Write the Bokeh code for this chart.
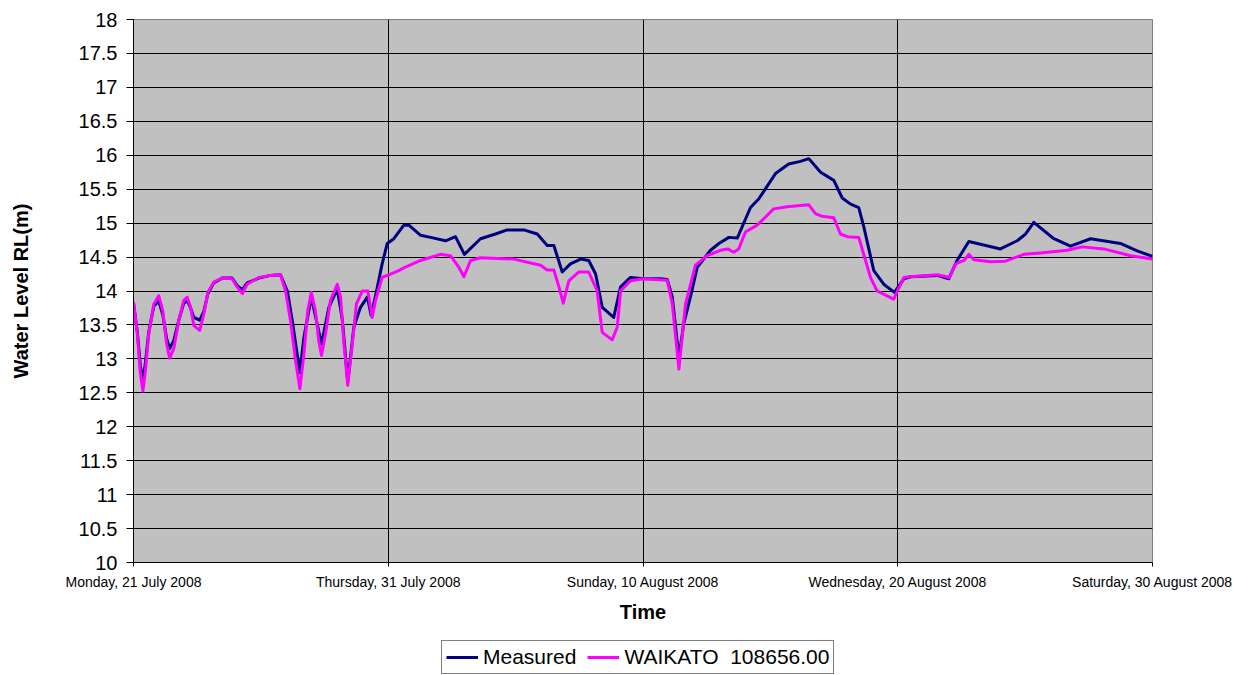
from bokeh.plotting import figure
from bokeh.layouts import column
from bokeh.models import ColumnDataSource, FixedTicker, Legend, LegendItem, Range1d
from bokeh.embed import file_html
from bokeh.resources import INLINE

# Days since Monday, 21 July 2008
tick_days = [0, 10, 20, 30, 40]
tick_labels = ["Monday, 21 July 2008", "Thursday, 31 July 2008", "Sunday, 10 August 2008",
               "Wednesday, 20 August 2008", "Saturday, 30 August 2008"]
y_ticks = [10, 10.5, 11, 11.5, 12, 12.5, 13, 13.5, 14, 14.5, 15, 15.5, 16, 16.5, 17, 17.5, 18]

measured_day = [0.0, 0.15, 0.27, 0.37, 0.47, 0.6, 0.8, 0.99, 1.15, 1.3, 1.42, 1.58, 1.78, 1.97,
                2.11, 2.24, 2.37, 2.6, 2.76, 2.92, 3.15, 3.48, 3.87, 4.07, 4.27, 4.46, 4.92, 5.38,
                5.77, 6.04, 6.23, 6.53, 6.69, 6.98, 7.38, 7.67, 8.0, 8.2, 8.41, 8.65, 8.91, 9.18,
                9.33, 9.54, 9.76, 9.96, 10.22, 10.61, 10.81, 11.27, 11.66, 12.25, 12.64, 12.99,
                13.62, 14.21, 14.67, 15.32, 15.85, 16.24, 16.5, 16.83, 17.15, 17.55, 17.87, 18.14,
                18.4, 18.85, 19.12, 19.51, 20.03, 20.69, 20.95, 21.15, 21.41, 21.6, 21.86, 22.13,
                22.65, 22.98, 23.37, 23.7, 24.22, 24.55, 25.2, 25.72, 26.18, 26.51, 26.97, 27.49,
                27.82, 28.15, 28.47, 28.67, 29.06, 29.45, 29.87, 30.24, 30.5, 31.55, 32.0, 32.33,
                32.79, 33.25, 34.03, 34.69, 35.02, 35.34, 36.13, 36.78, 37.57, 38.74, 39.4, 40.0]
measured_level = [13.82, 13.4, 12.9, 12.68, 12.95, 13.4, 13.78, 13.85, 13.65, 13.3, 13.15, 13.27,
                  13.57, 13.82, 13.86, 13.75, 13.61, 13.57, 13.7, 13.96, 14.12, 14.19, 14.19, 14.08,
                  14.02, 14.12, 14.19, 14.23, 14.24, 14.0, 13.57, 12.8, 13.32, 13.91, 13.22, 13.76,
                  14.03, 13.57, 12.66, 13.47, 13.76, 13.91, 13.64, 14.0, 14.4, 14.7, 14.77, 14.97,
                  14.97, 14.82, 14.79, 14.74, 14.8, 14.54, 14.77, 14.84, 14.9, 14.9, 14.84, 14.67,
                  14.67, 14.28, 14.4, 14.47, 14.45, 14.25, 13.76, 13.61, 14.06, 14.2, 14.18, 14.18,
                  14.17, 13.91, 13.02, 13.52, 13.91, 14.35, 14.6, 14.7, 14.79, 14.78, 15.23, 15.36,
                  15.73, 15.87, 15.91, 15.95, 15.75, 15.63, 15.37, 15.28, 15.23, 14.94, 14.3, 14.1,
                  13.98, 14.18, 14.21, 14.23, 14.18, 14.45, 14.73, 14.69, 14.62, 14.74, 14.84, 15.01,
                  14.77, 14.66, 14.77, 14.7, 14.59, 14.51]

waikato_day = [0.0, 0.15, 0.27, 0.37, 0.47, 0.6, 0.8, 0.99, 1.15, 1.3, 1.42, 1.58, 1.78, 1.97,
               2.11, 2.24, 2.37, 2.6, 2.76, 2.92, 3.15, 3.48, 3.87, 4.07, 4.27, 4.46, 4.92, 5.38,
               5.77, 5.97, 6.16, 6.36, 6.53, 6.69, 6.84, 6.98, 7.14, 7.27, 7.38, 7.54, 7.73, 8.0,
               8.13, 8.26, 8.41, 8.59, 8.75, 8.98, 9.2, 9.37, 9.5, 9.76, 10.09, 10.41, 10.61,
               11.27, 12.05, 12.44, 12.77, 12.97, 13.23, 13.62, 14.93, 15.98, 16.24, 16.5, 16.7,
               16.87, 17.09, 17.48, 17.87, 18.2, 18.4, 18.79, 18.99, 19.12, 19.51, 20.03, 20.95,
               21.15, 21.41, 21.67, 22.06, 22.52, 23.04, 23.33, 23.56, 23.76, 24.02, 24.48, 24.81,
               25.13, 25.66, 26.51, 26.77, 27.03, 27.49, 27.75, 28.02, 28.47, 28.93, 29.19, 29.84,
               30.24, 30.5, 31.55, 32.04, 32.27, 32.6, 32.79, 32.99, 33.64, 34.23, 34.95, 35.6,
               36.65, 37.24, 38.09, 39.14, 40.0]
waikato_level = [13.84, 13.37, 12.78, 12.53, 12.83, 13.37, 13.81, 13.93, 13.71, 13.22, 13.01,
                 13.15, 13.57, 13.86, 13.91, 13.76, 13.49, 13.42, 13.66, 13.98, 14.13, 14.19, 14.18,
                 14.06, 13.96, 14.1, 14.2, 14.23, 14.24, 14.0, 13.57, 12.98, 12.56, 13.07, 13.71,
                 13.98, 13.71, 13.27, 13.05, 13.37, 13.86, 14.1, 13.91, 13.22, 12.61, 13.22, 13.81,
                 14.0, 14.0, 13.61, 13.86, 14.2, 14.25, 14.3, 14.34, 14.45, 14.54, 14.52, 14.35,
                 14.21, 14.45, 14.49, 14.47, 14.38, 14.31, 14.31, 14.06, 13.82, 14.15, 14.28, 14.28,
                 14.0, 13.39, 13.28, 13.47, 14.0, 14.15, 14.18, 14.16, 13.81, 12.85, 13.81, 14.38,
                 14.52, 14.6, 14.62, 14.57, 14.62, 14.87, 14.97, 15.09, 15.21, 15.24, 15.27, 15.14,
                 15.1, 15.08, 14.84, 14.8, 14.79, 14.2, 14.0, 13.88, 14.2, 14.21, 14.24, 14.2, 14.4,
                 14.45, 14.54, 14.46, 14.43, 14.44, 14.54, 14.56, 14.6, 14.65, 14.62, 14.52, 14.47]

FONT = "Liberation Sans"
NAVY = "#000080"
MAGENTA = "#FF00FF"

p = figure(width=1248, height=632, output_backend="svg", toolbar_location=None,
           x_range=Range1d(0, 40), y_range=Range1d(10, 18),
           min_border_left=133, min_border_right=96, min_border_top=19, min_border_bottom=70)
p.background_fill_color = "#C0C0C0"
p.border_fill_color = "white"
p.outline_line_color = "#808080"
p.outline_line_width = 1

p.xaxis.ticker = FixedTicker(ticks=tick_days)
p.xaxis.major_label_overrides = {d: lab for d, lab in zip(tick_days, tick_labels)}
p.xaxis.minor_tick_line_color = None
p.xaxis.major_tick_in = 0
p.xaxis.major_tick_out = 4
p.xaxis.major_label_text_font = FONT
p.xaxis.major_label_text_font_size = "14px"
p.xaxis.major_label_text_color = "black"
p.xaxis.major_label_standoff = 7
p.xaxis.axis_label = "Time"
p.xaxis.axis_label_text_font = FONT
p.xaxis.axis_label_text_font_size = "20px"
p.xaxis.axis_label_text_font_style = "bold"
p.xaxis.axis_label_text_color = "black"
p.xaxis.axis_label_standoff = 8
p.xaxis.axis_line_color = "black"

p.yaxis.ticker = FixedTicker(ticks=y_ticks)
p.yaxis.minor_tick_line_color = None
p.yaxis.major_tick_in = 0
p.yaxis.major_tick_out = 7
p.yaxis.major_label_text_font = FONT
p.yaxis.major_label_text_font_size = "20px"
p.yaxis.major_label_text_color = "black"
p.yaxis.major_label_standoff = 9
p.yaxis.axis_label = "Water Level RL(m)"
p.yaxis.axis_label_text_font = FONT
p.yaxis.axis_label_text_font_size = "20px"
p.yaxis.axis_label_text_font_style = "bold"
p.yaxis.axis_label_text_color = "black"
p.yaxis.axis_label_standoff = 44
p.yaxis.axis_line_color = "black"

p.xgrid.ticker = FixedTicker(ticks=tick_days)
p.xgrid.grid_line_color = "black"
p.ygrid.ticker = FixedTicker(ticks=y_ticks)
p.ygrid.grid_line_color = "black"

src_m = ColumnDataSource(dict(x=measured_day, y=measured_level))
src_w = ColumnDataSource(dict(x=waikato_day, y=waikato_level))
p.line("x", "y", source=src_m, line_color=NAVY, line_width=3, line_join="round")
p.line("x", "y", source=src_w, line_color=MAGENTA, line_width=3, line_join="round")

# Legend strip below the chart (its series lie outside this strip's ranges)
p2 = figure(width=1248, height=43, output_backend="svg", toolbar_location=None,
            x_axis_type=None, y_axis_type=None, x_range=Range1d(0, 1), y_range=Range1d(0, 1),
            min_border_left=0, min_border_right=0, min_border_top=0, min_border_bottom=0)
p2.outline_line_color = None
p2.background_fill_color = "white"
p2.border_fill_color = "white"
p2.grid.visible = False
leg_m = p2.line("x", "y", source=src_m, line_color=NAVY, line_width=3)
leg_w = p2.line("x", "y", source=src_w, line_color=MAGENTA, line_width=3)

legend = Legend(items=[LegendItem(label="Measured", renderers=[leg_m]),
                       LegendItem(label="WAIKATO  108656.00", renderers=[leg_w])],
                location=(308, 1), orientation="horizontal")
legend.label_text_font = FONT
legend.label_text_font_size = "21px"
legend.label_text_color = "black"
legend.border_line_color = "black"
legend.border_line_width = 1
legend.background_fill_color = "white"
legend.background_fill_alpha = 1
legend.padding = 4
legend.margin = 0
legend.spacing = 11
legend.glyph_width = 32
legend.glyph_height = 20
legend.label_standoff = 5
legend.label_height = 20
p2.add_layout(legend)

layout = column(p, p2, spacing=0)
open("out.html", "w").write(file_html(layout, INLINE))
